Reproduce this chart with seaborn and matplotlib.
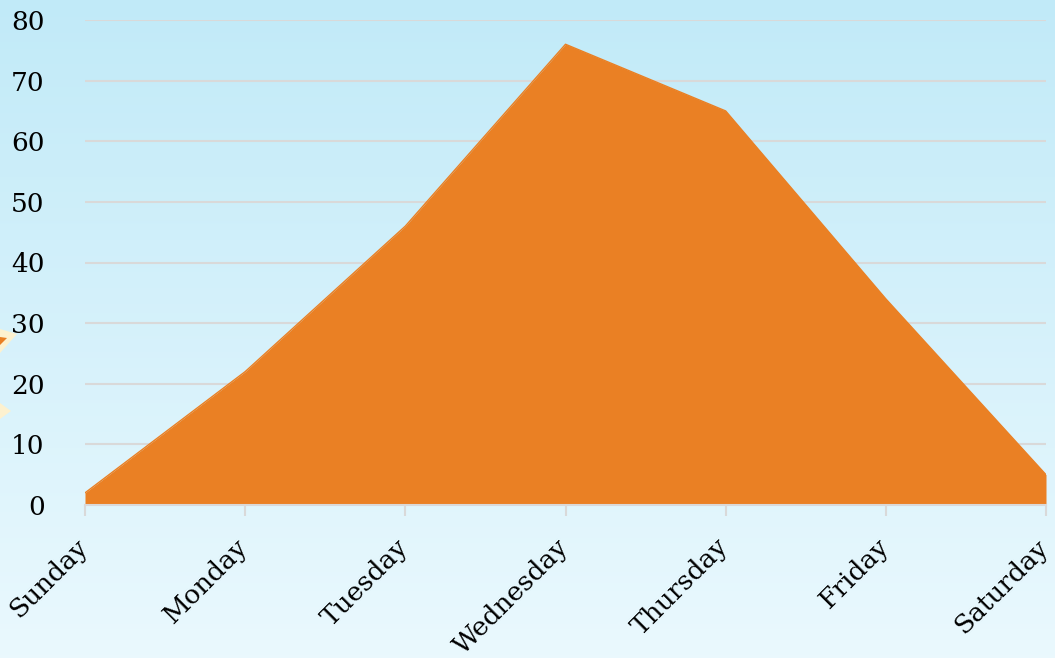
import numpy as np
import pandas as pd
import matplotlib
matplotlib.use("Agg")
import matplotlib.pyplot as plt
import matplotlib.transforms as mtransforms
from matplotlib.patches import Polygon
import seaborn as sns

days = ["Sunday", "Monday", "Tuesday", "Wednesday", "Thursday", "Friday", "Saturday"]
values = [2, 22, 46, 76, 65, 34, 5]
y_ticks = [0, 10, 20, 30, 40, 50, 60, 70, 80]

df = pd.DataFrame({"day": days, "value": values})
df["pos"] = range(len(days))

sns.set_theme(style="white")
plt.rcParams["font.family"] = ["DejaVu Serif"]

W, H = 1055, 658
fig = plt.figure(figsize=(W / 100, H / 100), dpi=100)

# light blue gradient background over the whole figure
bg = fig.add_axes([0, 0, 1, 1], zorder=-10)
grad = np.linspace(0, 1, 256).reshape(-1, 1)
top_col = np.array([0.757, 0.918, 0.973])
bot_col = np.array([0.918, 0.975, 0.995])
img = top_col + (bot_col - top_col) * grad[:, :, None]
bg.imshow(img, aspect="auto", extent=[0, W, H, 0])
bg.set_xlim(0, W)
bg.set_ylim(H, 0)
bg.axis("off")

# bits of the slide decoration peeking in at the left edge
bg.add_patch(Polygon([(0, 329), (17, 334), (0, 353)], closed=True, color="#FDF1CF", lw=0))
bg.add_patch(Polygon([(0, 337), (7, 338), (0, 345)], closed=True, color="#E97F23", lw=0))
bg.add_patch(Polygon([(0, 403), (11, 411), (0, 419)], closed=True, color="#FDF1CF", lw=0))

ax = fig.add_axes([85 / W, 1 - 505 / H, (1046 - 85) / W, (505 - 20) / H])
ax.patch.set_alpha(0)

orange = "#EA8024"
sns.lineplot(data=df, x="pos", y="value", color=orange, linewidth=1, ax=ax, zorder=3)
ax.fill_between(df["pos"], df["value"], 0, color=orange, linewidth=0, zorder=3)

ax.set_xlim(0, len(days) - 1)
ax.set_ylim(0, 80)
ax.set_yticks(y_ticks)
ax.set_yticklabels([str(t) for t in y_ticks], fontsize=19, color="black")
ax.set_xticks(df["pos"])
ax.set_xticklabels(days, rotation=45, ha="right", rotation_mode="anchor",
                   fontsize=19, color="black")
ax.set_xlabel("")
ax.set_ylabel("")

ax.grid(axis="y", color="#D9D9D9", linewidth=1.5, zorder=0)
ax.set_axisbelow(True)
for s in ["top", "right", "left"]:
    ax.spines[s].set_visible(False)
ax.spines["bottom"].set_color("#D9D9D9")
ax.spines["bottom"].set_linewidth(1.5)
ax.spines["bottom"].set_zorder(4)

ax.tick_params(axis="x", bottom=True, length=8, width=1.5, color="#D9D9D9", pad=13)
ax.tick_params(axis="y", left=False, pad=23)

shift = mtransforms.ScaledTranslation(-7 / 72, 0, fig.dpi_scale_trans)
for lab in ax.get_xticklabels():
    lab.set_transform(lab.get_transform() + shift)

fig.savefig("out.png", dpi=100)
